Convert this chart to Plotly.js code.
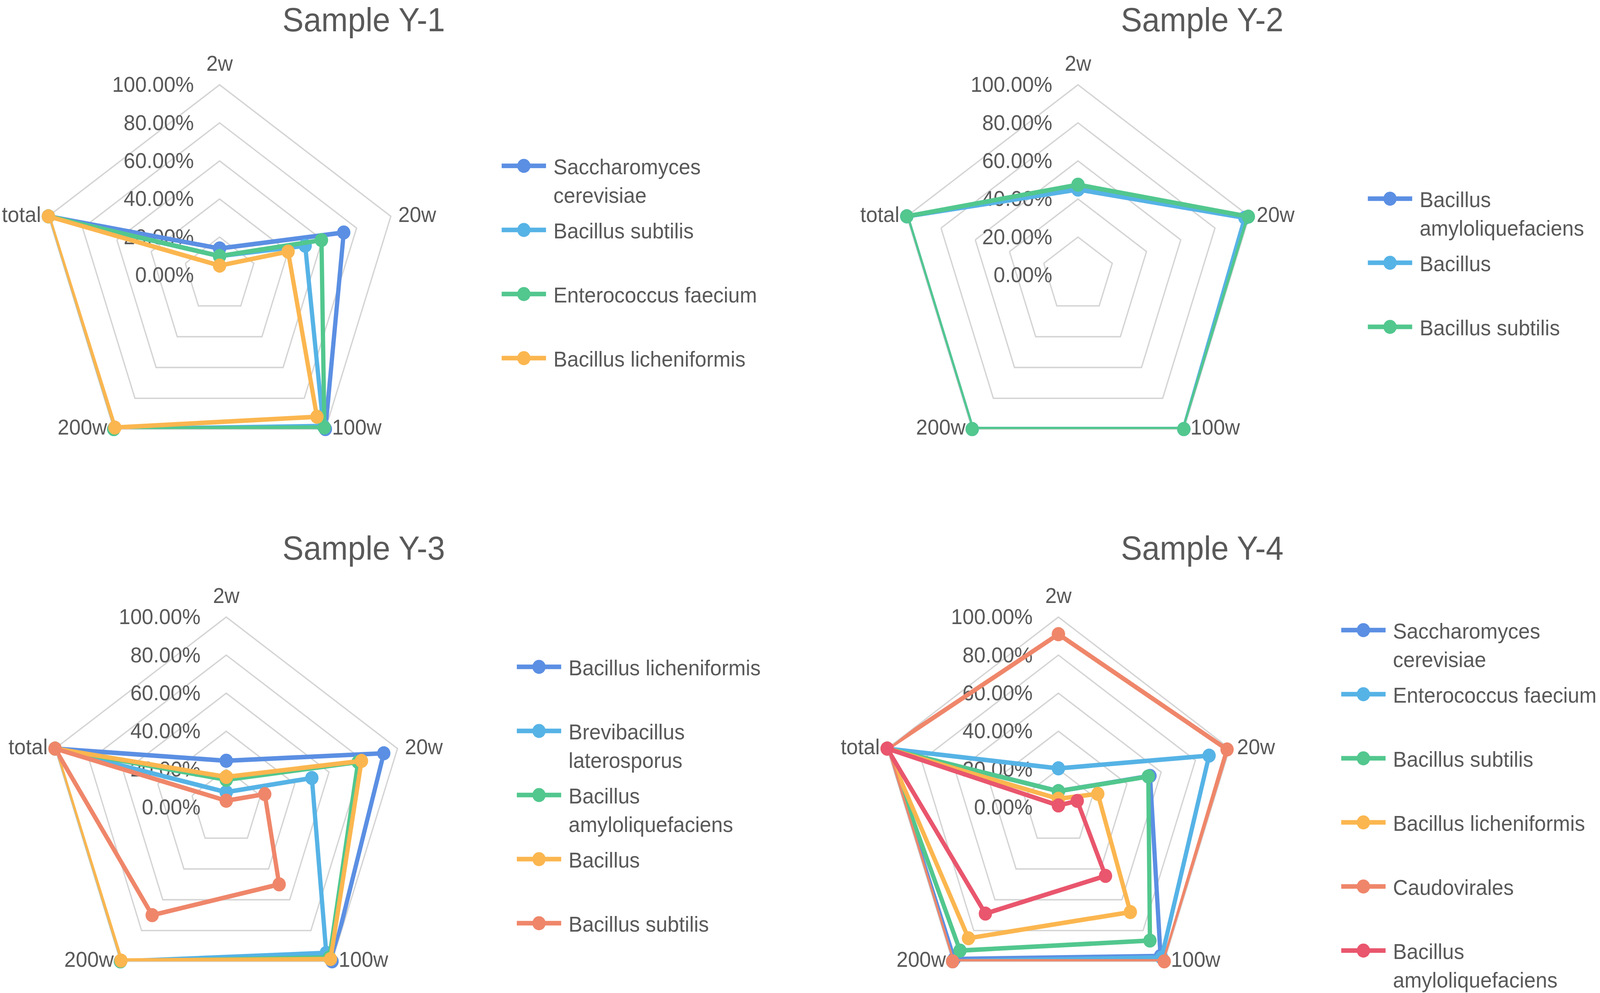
<!DOCTYPE html>
<html>
<head>
<meta charset="utf-8">
<script src="https://cdn.plot.ly/plotly-3.0.1.min.js"></script>
<style>
    html, body { margin: 0; padding: 0; background: #ffffff; overflow: hidden; }
    #moldura { overflow: hidden; position: relative; }
    #grafico { width: 1082px; height: 640px; transform-origin: 0 0; }
</style>
</head>
<body>
<div id="moldura"><div id="grafico"></div></div>
<script>
/* =========================================
   DADOS
========================================= */

const etapas = ["2w", "20w", "100w", "200w", "total"];

// Sample Y-1
const y1Nomes = ["Saccharomyces<br>cerevisiae", "Bacillus subtilis", "Enterococcus faecium", "Bacillus licheniformis"];
const y1Saccharomyces = [0.14, 0.725, 1.00, 1.00, 1.00];
const y1Subtilis      = [0.10, 0.50, 0.98, 1.00, 1.00];
const y1Enterococcus  = [0.10, 0.595, 0.99, 1.00, 1.00];
const y1Licheniformis = [0.05, 0.40, 0.92, 0.99, 1.00];

// Sample Y-2
const y2Nomes = ["Bacillus<br>amyloliquefaciens", "Bacillus", "Bacillus subtilis"];
const y2Amylo    = [0.45, 0.975, 1.00, 1.00, 1.00];
const y2Bacillus = [0.45, 0.975, 1.00, 1.00, 1.00];
const y2Subtilis = [0.475, 0.995, 1.00, 1.00, 1.00];

// Sample Y-3
const y3Nomes = ["Bacillus licheniformis", "Brevibacillus<br>laterosporus", "Bacillus<br>amyloliquefaciens", "Bacillus", "Bacillus subtilis"];
const y3Licheniformis = [0.245, 0.92, 1.00, 1.00, 1.00];
const y3Brevi         = [0.08, 0.50, 0.945, 1.00, 1.00];
const y3Amylo         = [0.145, 0.77, 0.975, 1.00, 1.00];
const y3Bacillus      = [0.16, 0.79, 0.985, 0.995, 1.00];
const y3Subtilis      = [0.035, 0.225, 0.50, 0.70, 1.00];

// Sample Y-4
const y4Nomes = ["Saccharomyces<br>cerevisiae", "Enterococcus faecium", "Bacillus subtilis", "Bacillus licheniformis", "Caudovirales", "Bacillus<br>amyloliquefaciens"];
const y4Saccharomyces = [0.085, 0.535, 0.965, 0.985, 1.00];
const y4Enterococcus  = [0.205, 0.88, 0.975, 1.00, 1.00];
const y4Subtilis      = [0.085, 0.525, 0.865, 0.93, 1.00];
const y4Licheniformis = [0.045, 0.23, 0.68, 0.85, 1.00];
const y4Caudovirales  = [0.91, 0.985, 1.00, 1.00, 1.00];
const y4Amylo         = [0.01, 0.11, 0.445, 0.69, 1.00];

const cores = ["#5b8fe3", "#56b3e6", "#52c78e", "#fbb64f", "#ef866a", "#e9566d"];

/* =========================================
   MONTAGEM
========================================= */

const W = 1082;
const H = 640;            // um pouco maior que a parte visível, o radar de baixo encosta na borda
const H_VISIVEL = 635.25; // 2541 / 4
const RAIO = 121.75;
const cinza = "#595959";
const grade = "#d4d4d4";
const fonte = "Liberation Sans, Arial, sans-serif";

// rótulos das pontas (2w, 20w...) desenhados no raio 100%
const rotuloPosicao = ["top center", "middle right", "middle right", "middle left", "middle left"];
const rotuloFolga = [7.2, 6.4, 5.6, 5.6, 6.4];

// todas as entradas da legenda com duas linhas, para espaçamento igual
function doisLinhas(nome){
    return nome.includes("<br>") ? nome : nome + "<br>&nbsp;";
}

function montarTraces(nomes, series, polar, legenda){
    let lista = series.map((valores, i) => ({
        type: "scatterpolar",
        r: valores.concat(valores[0]),
        theta: etapas.concat(etapas[0]),
        mode: "lines+markers",
        name: doisLinhas(nomes[i]),
        subplot: polar,
        legend: legenda,
        legendgroup: polar + "_" + i,
        line: { color: cores[i], width: 2.9 },
        marker: { color: cores[i], size: 9 }
    }));

    lista.push({
        type: "scatterpolar",
        r: etapas.map(() => 1),
        theta: etapas,
        mode: "markers+text",
        text: etapas,
        textposition: rotuloPosicao,
        textfont: { size: 14, color: cinza },
        marker: { size: rotuloFolga, opacity: 0 },
        cliponaxis: false,
        showlegend: false,
        hoverinfo: "skip",
        subplot: polar
    });
    return lista;
}

function eixoPolar(cx, cy){
    return {
        domain: {
            x: [(cx - RAIO) / W, (cx + RAIO) / W],
            y: [1 - (cy + RAIO) / H, 1 - (cy - RAIO) / H]
        },
        gridshape: "linear",
        bgcolor: "rgba(0,0,0,0)",
        angularaxis: {
            type: "category",
            categoryorder: "array",
            categoryarray: etapas,
            direction: "clockwise",
            rotation: 90,
            showgrid: false,
            showline: true,
            linecolor: grade,
            linewidth: 0.9,
            ticks: "",
            showticklabels: false,
            layer: "below traces"
        },
        radialaxis: {
            range: [0, 1],
            tick0: 0,
            dtick: 0.2,
            tickformat: ".2%",
            angle: 90,
            tickangle: 90,
            side: "counterclockwise",
            showline: false,
            ticks: "outside",
            ticklen: 12,
            tickcolor: "rgba(0,0,0,0)",
            gridcolor: grade,
            gridwidth: 0.9,
            tickfont: { size: 14, color: cinza },
            layer: "below traces"
        }
    };
}

function legendaEm(x, yTopo){
    return {
        x: x / W,
        y: 1 - yTopo / H,
        xanchor: "left",
        yanchor: "top",
        valign: "top",
        tracegroupgap: 1.6,
        bgcolor: "rgba(0,0,0,0)",
        borderwidth: 0,
        font: { size: 14, color: cinza }
    };
}

function titulo(texto, x, y){
    return {
        text: texto,
        xref: "paper", yref: "paper",
        x: x / W, y: 1 - y / H,
        xanchor: "center", yanchor: "middle",
        showarrow: false,
        font: { size: 21.5, color: cinza }
    };
}

let traces = [].concat(
    montarTraces(y1Nomes, [y1Saccharomyces, y1Subtilis, y1Enterococcus, y1Licheniformis], "polar", "legend"),
    montarTraces(y2Nomes, [y2Amylo, y2Bacillus, y2Subtilis], "polar2", "legend2"),
    montarTraces(y3Nomes, [y3Licheniformis, y3Brevi, y3Amylo, y3Bacillus, y3Subtilis], "polar3", "legend3"),
    montarTraces(y4Nomes, [y4Saccharomyces, y4Enterococcus, y4Subtilis, y4Licheniformis, y4Caudovirales, y4Amylo], "polar4", "legend4")
);

let layout = {
    width: W,
    height: H,
    margin: { l: 0, r: 0, t: 0, b: 0, autoexpand: false },
    paper_bgcolor: "#ffffff",
    font: { family: fonte, color: cinza, size: 14 },
    showlegend: true,

    polar:  eixoPolar(148.5, 176),
    polar2: eixoPolar(729, 176),
    polar3: eixoPolar(153, 516.5),
    polar4: eixoPolar(715.75, 516.5),

    legend:  legendaEm(334.25, 90.5),
    legend2: legendaEm(920, 111.5),
    legend3: legendaEm(344.5, 411),
    legend4: legendaEm(902, 387.5),

    annotations: [
        titulo("Sample Y-1", 245.75, 12.75),
        titulo("Sample Y-2", 813, 12.75),
        titulo("Sample Y-3", 245.75, 350.5),
        titulo("Sample Y-4", 813, 350.5)
    ]
};

// a janela real pode ser mais estreita que 4328; o desenho é esticado para ocupá-la inteira
let larguraJanela = window.innerWidth;
let alturaJanela = window.innerHeight;
let moldura = document.getElementById("moldura");
moldura.style.width = larguraJanela + "px";
moldura.style.height = alturaJanela + "px";
document.getElementById("grafico").style.transform =
    "scale(" + (larguraJanela / W) + "," + (alturaJanela / H_VISIVEL) + ")";

Plotly.newPlot("grafico", traces, layout, { displayModeBar: false, staticPlot: true });
</script>
</body>
</html>
